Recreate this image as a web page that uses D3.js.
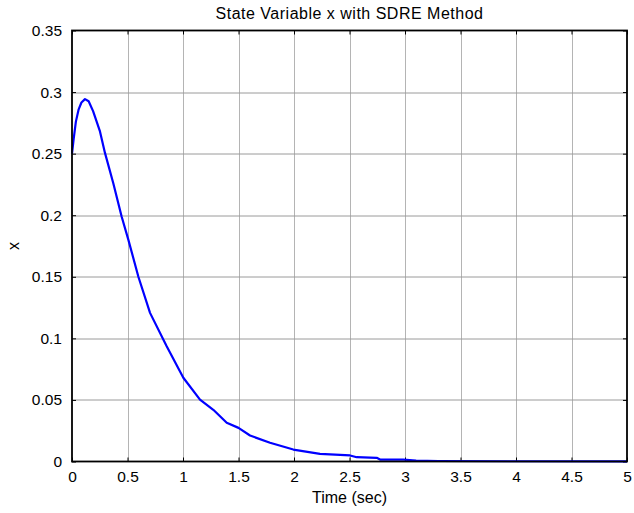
<!DOCTYPE html>
<html>
<head>
<meta charset="utf-8">
<script src="https://cdn.jsdelivr.net/npm/d3@7"></script>
<style>
  body { margin: 0; background: #fff; }
  text { font-family: "Liberation Sans", Arial, sans-serif; }
</style>
</head>
<body>
<div id="chart"></div>
<script>
// values
var timeVals = [0, 0.015, 0.035, 0.06, 0.085, 0.117, 0.15, 0.19, 0.252, 0.297, 0.372, 0.447, 0.508, 0.598, 0.703, 0.853, 1.003, 1.153, 1.273, 1.394, 1.5, 1.604, 1.784, 1.994, 2.234, 2.505, 2.565, 2.745, 2.775, 2.985, 3.1, 3.3, 4, 5];
var xVals = [0.25, 0.262, 0.276, 0.286, 0.2915, 0.2943, 0.2925, 0.2845, 0.268, 0.2506, 0.226, 0.199, 0.180, 0.150, 0.1207, 0.0936, 0.068, 0.0503, 0.042, 0.0314, 0.0273, 0.0211, 0.0152, 0.0097, 0.0062, 0.0049, 0.0035, 0.003, 0.0016, 0.0016, 0.0008, 0.0004, 0.0002, 0.0001];
var xTicks = [0, 0.5, 1, 1.5, 2, 2.5, 3, 3.5, 4, 4.5, 5];
var yTicks = [0, 0.05, 0.1, 0.15, 0.2, 0.25, 0.3, 0.35];

var W = 634, H = 513;
var margin = {top: 30.5, right: 7, bottom: 51.5, left: 72};
var width = W - margin.left - margin.right,
    height = H - margin.top - margin.bottom;

var svg = d3.select("#chart").append("svg")
  .attr("width", W).attr("height", H);
var g = svg.append("g")
  .attr("transform", "translate(" + margin.left + "," + margin.top + ")");

var x = d3.scaleLinear().domain([0, 5]).range([0, width]);
var y = d3.scaleLinear().domain([0, 0.35]).range([height, 0]);

// grid
g.selectAll(".vgrid").data(xTicks.slice(1, -1)).enter().append("line")
  .attr("x1", d => Math.round(x(d)) + 0.5).attr("x2", d => Math.round(x(d)) + 0.5)
  .attr("y1", 0).attr("y2", height)
  .attr("stroke", "#b4b4b4").attr("stroke-width", 1);
g.selectAll(".hgrid").data(yTicks.slice(1, -1)).enter().append("line")
  .attr("y1", d => Math.round(y(d)) + 0.5).attr("y2", d => Math.round(y(d)) + 0.5)
  .attr("x1", 0).attr("x2", width)
  .attr("stroke", "#9a9a9a").attr("stroke-width", 1);

// inside ticks on all four sides
var tk = 4;
var xAxB = d3.axisBottom(x).tickValues(xTicks).tickSizeInner(-tk).tickSizeOuter(0).tickPadding(9)
  .tickFormat(d => d3.format("")(d));
var xAxT = d3.axisTop(x).tickValues(xTicks).tickSizeInner(-tk).tickSizeOuter(0).tickFormat("");
var yAxL = d3.axisLeft(y).tickValues(yTicks).tickSizeInner(-tk).tickSizeOuter(0).tickPadding(10)
  .tickFormat(d => d3.format("")(d));
var yAxR = d3.axisRight(y).tickValues(yTicks).tickSizeInner(-tk).tickSizeOuter(0).tickFormat("");

function style(sel) {
  sel.select(".domain").remove();
  sel.selectAll("line").attr("stroke", "#000");
  sel.selectAll("text").attr("font-size", 15.5).attr("fill", "#000")
    .style("font-family", "'Liberation Sans', Arial, sans-serif");
}
g.append("g").attr("transform", "translate(0," + height + ")").call(xAxB).call(style);
g.append("g").call(xAxT).call(style);
g.append("g").call(yAxL).call(style);
g.append("g").attr("transform", "translate(" + width + ",0)").call(yAxR).call(style);

// curve
var line = d3.line()
  .x((d, i) => x(timeVals[i]))
  .y(d => y(d));
g.append("path").datum(xVals)
  .attr("d", line)
  .attr("fill", "none")
  .attr("stroke", "#0000ff")
  .attr("stroke-width", 2.2)
  .attr("stroke-linejoin", "round");

// box
g.append("rect").attr("x", 0).attr("y", 0).attr("width", width).attr("height", height)
  .attr("fill", "none").attr("stroke", "#000").attr("stroke-width", 1.8);

// labels
svg.append("text").attr("x", margin.left + width / 2).attr("y", 19)
  .attr("text-anchor", "middle").attr("font-size", 16).attr("letter-spacing", 0.5)
  .text("State Variable x with SDRE Method");
svg.append("text").attr("x", margin.left + width / 2).attr("y", 503)
  .attr("text-anchor", "middle").attr("font-size", 16).text("Time (sec)");
svg.append("text").attr("transform", "translate(19," + (margin.top + height / 2) + ") rotate(-90)")
  .attr("text-anchor", "middle").attr("font-size", 16).text("x");
</script>
</body>
</html>
